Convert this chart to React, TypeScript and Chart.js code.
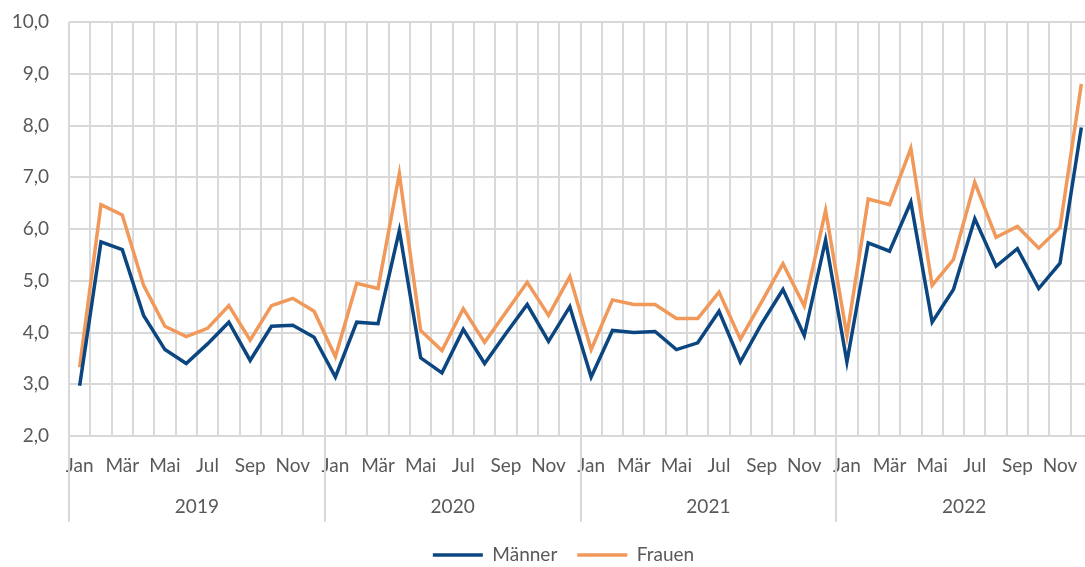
import React, { useEffect, useRef } from 'react';
import { Chart, registerables } from 'chart.js';

Chart.register(...registerables);

const years = ['2019', '2020', '2021', '2022'];
const monthNames = ['Jan', 'Feb', 'Mär', 'Apr', 'Mai', 'Jun', 'Jul', 'Aug', 'Sep', 'Okt', 'Nov', 'Dez'];
const categories = years.flatMap((y) => monthNames.map((m) => `${m} ${y}`));

const maenner = [
  2.97, 5.75, 5.6, 4.33, 3.67, 3.4, 3.78, 4.2, 3.46, 4.12, 4.14, 3.91,
  3.14, 4.2, 4.17, 5.97, 3.51, 3.22, 4.06, 3.4, 3.98, 4.54, 3.83, 4.5,
  3.14, 4.04, 4.0, 4.02, 3.67, 3.8, 4.41, 3.43, 4.17, 4.83, 3.94, 5.79,
  3.43, 5.73, 5.57, 6.52, 4.2, 4.83, 6.2, 5.28, 5.62, 4.85, 5.34, 7.96,
];

const frauen = [
  3.33, 6.47, 6.27, 4.91, 4.12, 3.92, 4.08, 4.52, 3.85, 4.52, 4.66, 4.41,
  3.53, 4.95, 4.85, 7.07, 4.04, 3.65, 4.46, 3.81, 4.39, 4.97, 4.33, 5.08,
  3.67, 4.63, 4.54, 4.54, 4.27, 4.27, 4.78, 3.87, 4.59, 5.33, 4.51, 6.36,
  3.94, 6.58, 6.47, 7.56, 4.91, 5.41, 6.9, 5.84, 6.05, 5.63, 6.03, 8.8,
];

const yMin = 2;
const yMax = 10;
const yStep = 1;

const FONT = 'Lato, "Noto Sans", sans-serif';
const TEXT = '#595959';
const GRID = '#d9d9d9';
const BLUE = '#0b4680';
const ORANGE = '#f0995a';

const yearAxisPlugin = {
  id: 'yearAxis',
  afterDraw(chart: any) {
    const { ctx, chartArea, scales } = chart;
    const x = scales.x;
    const step = x.getPixelForValue(1) - x.getPixelForValue(0);
    ctx.save();
    ctx.strokeStyle = GRID;
    ctx.lineWidth = 2;
    ctx.fillStyle = TEXT;
    ctx.font = `19px ${FONT}`;
    ctx.textAlign = 'center';
    ctx.textBaseline = 'middle';
    years.forEach((yr, k) => {
      const left = x.getPixelForValue(k * 12) - step / 2;
      const right = x.getPixelForValue(k * 12 + 11) + step / 2;
      const lx = Math.round(left);
      ctx.beginPath();
      ctx.moveTo(lx, chartArea.bottom);
      ctx.lineTo(lx, chartArea.bottom + 86);
      ctx.stroke();
      ctx.fillText(yr, (left + right) / 2, chartArea.bottom + 71);
    });
    ctx.restore();
  },
};

export default function App() {
  const ref = useRef<HTMLCanvasElement | null>(null);

  useEffect(() => {
    if (!ref.current) return;
    const chart = new Chart(ref.current, {
      type: 'line',
      data: {
        labels: categories,
        datasets: [
          {
            label: 'Männer',
            data: maenner,
            borderColor: BLUE,
            backgroundColor: BLUE,
            borderWidth: 3.5,
            pointRadius: 0,
            tension: 0,
          },
          {
            label: 'Frauen',
            data: frauen,
            borderColor: ORANGE,
            backgroundColor: ORANGE,
            borderWidth: 3.5,
            pointRadius: 0,
            tension: 0,
          },
        ],
      },
      options: {
        responsive: false,
        animation: false,
        devicePixelRatio: 1,
        layout: { padding: { top: 22, left: 0, right: 0, bottom: 7.5 } },
        plugins: {
          tooltip: { enabled: false },
          legend: {
            position: 'bottom',
            labels: {
              usePointStyle: true,
              pointStyle: 'line',
              pointStyleWidth: 50,
              padding: 20,
              color: TEXT,
              font: { family: FONT, size: 19 },
            },
          },
        },
        scales: {
          x: {
            type: 'category',
            offset: true,
            grid: { offset: true, color: GRID, lineWidth: 2, drawTicks: false },
            border: { color: GRID, width: 2 },
            ticks: {
              autoSkip: false,
              maxRotation: 0,
              padding: 18,
              color: TEXT,
              font: { family: FONT, size: 19 },
              callback: (_v: any, i: number) => (i % 2 === 0 ? monthNames[i % 12] : ''),
            },
            afterFit: (s: any) => {
              s.height = 89.5;
            },
          },
          y: {
            min: yMin,
            max: yMax,
            grid: { color: GRID, lineWidth: 2, drawTicks: false },
            border: { display: false },
            ticks: {
              stepSize: yStep,
              padding: 20,
              color: TEXT,
              font: { family: FONT, size: 19 },
              callback: (v: any) => Number(v).toFixed(1).replace('.', ','),
            },
            afterFit: (s: any) => {
              s.width = 69;
              s.paddingTop = 0;
              s.paddingBottom = 0;
            },
          },
          y2: {
            position: 'right',
            min: 0,
            max: 1,
            grid: { drawOnChartArea: false, drawTicks: false },
            border: { display: false },
            ticks: { display: false },
            afterFit: (s: any) => {
              s.width = 35;
              s.paddingTop = 0;
              s.paddingBottom = 0;
            },
          },
        },
      },
      plugins: [yearAxisPlugin],
    });
    return () => chart.destroy();
  }, []);

  return (
    <div style={{ position: 'fixed', left: 0, top: 0 }}>
      <canvas ref={ref} width={1127} height={582} style={{ display: 'block' }} />
    </div>
  );
}
